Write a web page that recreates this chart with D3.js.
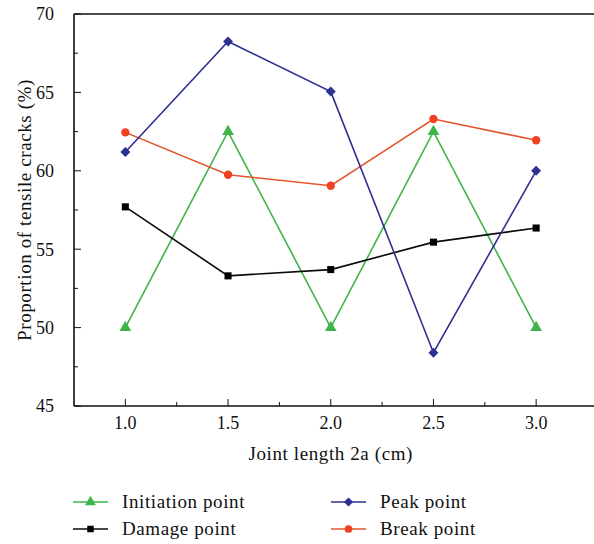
<!DOCTYPE html>
<html>
<head>
<meta charset="utf-8">
<script src="https://cdn.jsdelivr.net/npm/d3@7"></script>
<style>
  html, body { margin: 0; padding: 0; background: #fff; }
  svg { display: block; }
  text { font-family: "Liberation Serif", "DejaVu Serif", serif; fill: #111; }
</style>
</head>
<body>
<script>
// Joint lengths (cm) on the x axis
const jointLength = [1.0, 1.5, 2.0, 2.5, 3.0];

// Proportion of tensile cracks (%) at each stage
const initiationPoint = [50.0, 62.5, 50.0, 62.5, 50.0];
const damagePoint     = [57.7, 53.3, 53.7, 55.45, 56.35];
const peakPoint       = [61.2, 68.25, 65.05, 48.4, 60.0];
const breakPoint      = [62.45, 59.75, 59.05, 63.3, 61.95];

const xTicks = [1.0, 1.5, 2.0, 2.5, 3.0];
const yTicks = [45, 50, 55, 60, 65, 70];

const W = 594, H = 544;
const M = { left: 74, top: 14, bottom: 406 };
const labelFont = 19, labelSpacing = 0.6;

const svg = d3.select("body").append("svg")
  .attr("width", W).attr("height", H);

const x = d3.scaleLinear().domain([0.75, 3.25]).range([M.left, 587.5]);
const y = d3.scaleLinear().domain([45, 70]).range([M.bottom, M.top]);

// frame: top line runs to the edge
svg.append("line")
  .attr("x1", M.left).attr("x2", W).attr("y1", M.top).attr("y2", M.top)
  .attr("stroke", "#111").attr("stroke-width", 1.6);

// x axis (ticks point inward)
const gx = svg.append("g").attr("transform", `translate(0,${M.bottom})`);
gx.append("line").attr("x1", M.left).attr("x2", W).attr("y1", 0).attr("y2", 0)
  .attr("stroke", "#111").attr("stroke-width", 1.6);
gx.selectAll(".mj").data(xTicks).join("line")
  .attr("x1", d => x(d)).attr("x2", d => x(d)).attr("y1", 0).attr("y2", -7)
  .attr("stroke", "#111").attr("stroke-width", 1);
gx.selectAll(".mn").data(d3.range(1.25, 3.25, 0.5)).join("line")
  .attr("x1", d => x(d)).attr("x2", d => x(d)).attr("y1", 0).attr("y2", -4)
  .attr("stroke", "#111").attr("stroke-width", 1);
gx.selectAll("text").data(xTicks).join("text")
  .attr("x", d => x(d)).attr("y", 23)
  .attr("text-anchor", "middle").attr("font-size", 18)
  .text(d => d.toFixed(1));

// y axis (ticks point inward)
const gy = svg.append("g").attr("transform", `translate(${M.left},0)`);
gy.append("line").attr("x1", 0).attr("x2", 0).attr("y1", M.top).attr("y2", M.bottom)
  .attr("stroke", "#111").attr("stroke-width", 1.6);
gy.selectAll(".mj").data(yTicks).join("line")
  .attr("x1", 0).attr("x2", 7).attr("y1", d => y(d)).attr("y2", d => y(d))
  .attr("stroke", "#111").attr("stroke-width", 1);
gy.selectAll(".mn").data(d3.range(47.5, 70, 5)).join("line")
  .attr("x1", 0).attr("x2", 4).attr("y1", d => y(d)).attr("y2", d => y(d))
  .attr("stroke", "#111").attr("stroke-width", 1);
gy.selectAll("text").data(yTicks).join("text")
  .attr("x", -20).attr("y", d => y(d)).attr("dy", "0.35em")
  .attr("text-anchor", "end").attr("font-size", 18)
  .text(d => d);

// axis titles
svg.append("text")
  .attr("x", x(2.0)).attr("y", 460)
  .attr("text-anchor", "middle").attr("font-size", labelFont)
  .attr("letter-spacing", labelSpacing)
  .text("Joint length 2a (cm)");
svg.append("text")
  .attr("transform", `translate(31,${(M.top + M.bottom) / 2}) rotate(-90)`)
  .attr("text-anchor", "middle").attr("font-size", labelFont)
  .attr("letter-spacing", labelSpacing)
  .text("Proportion of tensile cracks (%)");

const series = [
  { name: "Initiation point", values: initiationPoint, line: "#3db54a", fill: "#3db54a", shape: d3.symbolTriangle, size: 60, rot: 0 },
  { name: "Damage point",     values: damagePoint,     line: "#0a0a0a", fill: "#000000", shape: d3.symbolSquare,   size: 50, rot: 0 },
  { name: "Peak point",       values: peakPoint,       line: "#2e3192", fill: "#2e3192", shape: d3.symbolSquare,   size: 50, rot: 45 },
  { name: "Break point",      values: breakPoint,      line: "#e4552b", fill: "#ef4123", shape: d3.symbolCircle,   size: 55, rot: 0 }
];

const line = d3.line().x(d => x(d[0])).y(d => y(d[1]));

// draw order: initiation, break, damage, peak
const order = [0, 3, 1, 2];
order.forEach(i => {
  const s = series[i];
  const pts = jointLength.map((j, k) => [j, s.values[k]]);
  svg.append("path").datum(pts)
    .attr("d", line).attr("fill", "none")
    .attr("stroke", s.line).attr("stroke-width", 1.6);
  svg.selectAll(null).data(pts).join("path")
    .attr("transform", d => `translate(${x(d[0])},${y(d[1])}) rotate(${s.rot})`)
    .attr("d", d3.symbol().type(s.shape).size(s.size))
    .attr("fill", s.fill);
});

// legend
const legendPos = [
  { lx: 73, ty: 502 }, { lx: 73, ty: 529 },
  { lx: 331, ty: 502 }, { lx: 331, ty: 529 }
];
series.forEach((s, i) => {
  const p = legendPos[i];
  const g = svg.append("g");
  g.append("line").attr("x1", p.lx).attr("x2", p.lx + 35)
    .attr("y1", p.ty).attr("y2", p.ty)
    .attr("stroke", s.line).attr("stroke-width", 1.6);
  g.append("path")
    .attr("transform", `translate(${p.lx + 17.5},${p.ty}) rotate(${s.rot})`)
    .attr("d", d3.symbol().type(s.shape).size(s.size * 0.85))
    .attr("fill", s.fill);
  g.append("text").attr("x", p.lx + 49).attr("y", p.ty).attr("dy", "0.33em")
    .attr("font-size", labelFont).attr("letter-spacing", labelSpacing)
    .text(s.name);
});
</script>
</body>
</html>
